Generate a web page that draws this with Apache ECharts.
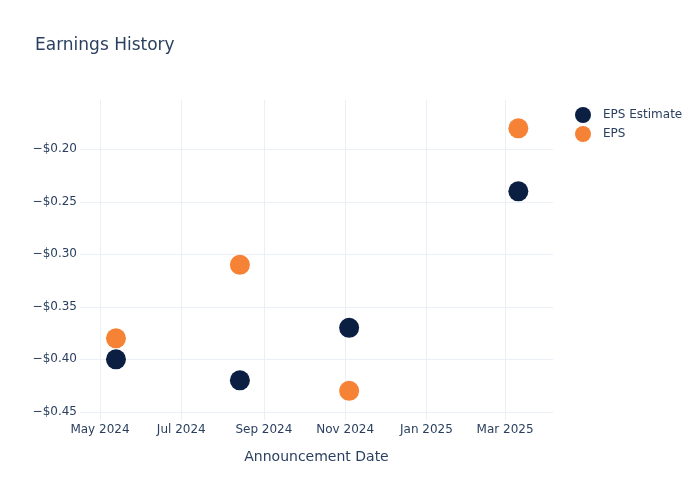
<!DOCTYPE html>
<html>
<head>
<meta charset="utf-8">
<script src="https://cdn.jsdelivr.net/npm/echarts@6/dist/echarts.min.js"></script>
<style>html,body{margin:0;padding:0;background:#fff}#c{width:700px;height:500px}</style>
</head>
<body>
<div id="c"></div>
<script>
const dates = ['2024-05-13', '2024-08-14', '2024-11-04', '2025-03-11'];
const epsEstimate = [-0.40, -0.42, -0.37, -0.24];
const epsActual = [-0.38, -0.31, -0.43, -0.18];
const xTicks = ['2024-05-01', '2024-07-01', '2024-09-01', '2024-11-01', '2025-01-01', '2025-03-01'];
const yTicks = [-0.45, -0.40, -0.35, -0.30, -0.25, -0.20];
const months = ['Jan','Feb','Mar','Apr','May','Jun','Jul','Aug','Sep','Oct','Nov','Dec'];

const ts = s => { const p = s.split('-').map(Number); return Date.UTC(p[0], p[1]-1, p[2]); };
const txt = '#2a3f5f';
const font = 'DejaVu Sans';

const chart = echarts.init(document.getElementById('c'));
chart.setOption({
  animation: false,
  backgroundColor: '#fff',
  textStyle: {fontFamily: font},
  title: {text: 'Earnings History', left: 35, top: 37, padding: 0, textStyle: {fontFamily: font, fontSize: 17, fontWeight: 'normal', color: txt}},
  legend: {
    orient: 'vertical', left: 575, top: 107, padding: 0, itemWidth: 16, itemHeight: 16, itemGap: 3,
    icon: 'circle', textStyle: {fontFamily: font, fontSize: 12, color: txt, padding: [0, 0, 0, 7]},
    data: ['EPS Estimate', 'EPS']
  },
  grid: {left: 80, top: 100, right: 147, bottom: 80, containLabel: false},
  xAxis: {
    type: 'value',
    min: ts('2024-04-16'), max: ts('2025-04-06'),
    name: 'Announcement Date', nameLocation: 'middle', nameGap: 30,
    nameTextStyle: {fontFamily: font, fontSize: 14, color: txt},
    axisLine: {show: false},
    axisTick: {show: false, customValues: xTicks.map(ts)},
    axisLabel: {
      customValues: xTicks.map(ts), margin: 4, color: txt, fontFamily: font, fontSize: 12,
      formatter: v => { const d = new Date(v); return months[d.getUTCMonth()] + ' ' + d.getUTCFullYear(); }
    },
    splitLine: {show: true, lineStyle: {color: '#ebf0f8', width: 1}}
  },
  yAxis: {
    type: 'value', min: -0.4578, max: -0.153,
    axisLine: {show: false},
    axisTick: {show: false, customValues: yTicks},
    axisLabel: {
      customValues: yTicks, margin: 3, color: txt, fontFamily: font, fontSize: 12,
      formatter: v => (v < 0 ? '\u2212' : '') + '$' + Math.abs(v).toFixed(2)
    },
    splitLine: {show: true, lineStyle: {color: '#ebf0f8', width: 1}}
  },
  series: [
    {name: 'EPS Estimate', type: 'scatter', symbolSize: 20, itemStyle: {color: '#0b1f42', opacity: 1},
     data: dates.map((d, i) => [ts(d), epsEstimate[i]])},
    {name: 'EPS', type: 'scatter', symbolSize: 20, itemStyle: {color: '#f68235', opacity: 1},
     data: dates.map((d, i) => [ts(d), epsActual[i]])}
  ]
});
</script>
</body>
</html>
